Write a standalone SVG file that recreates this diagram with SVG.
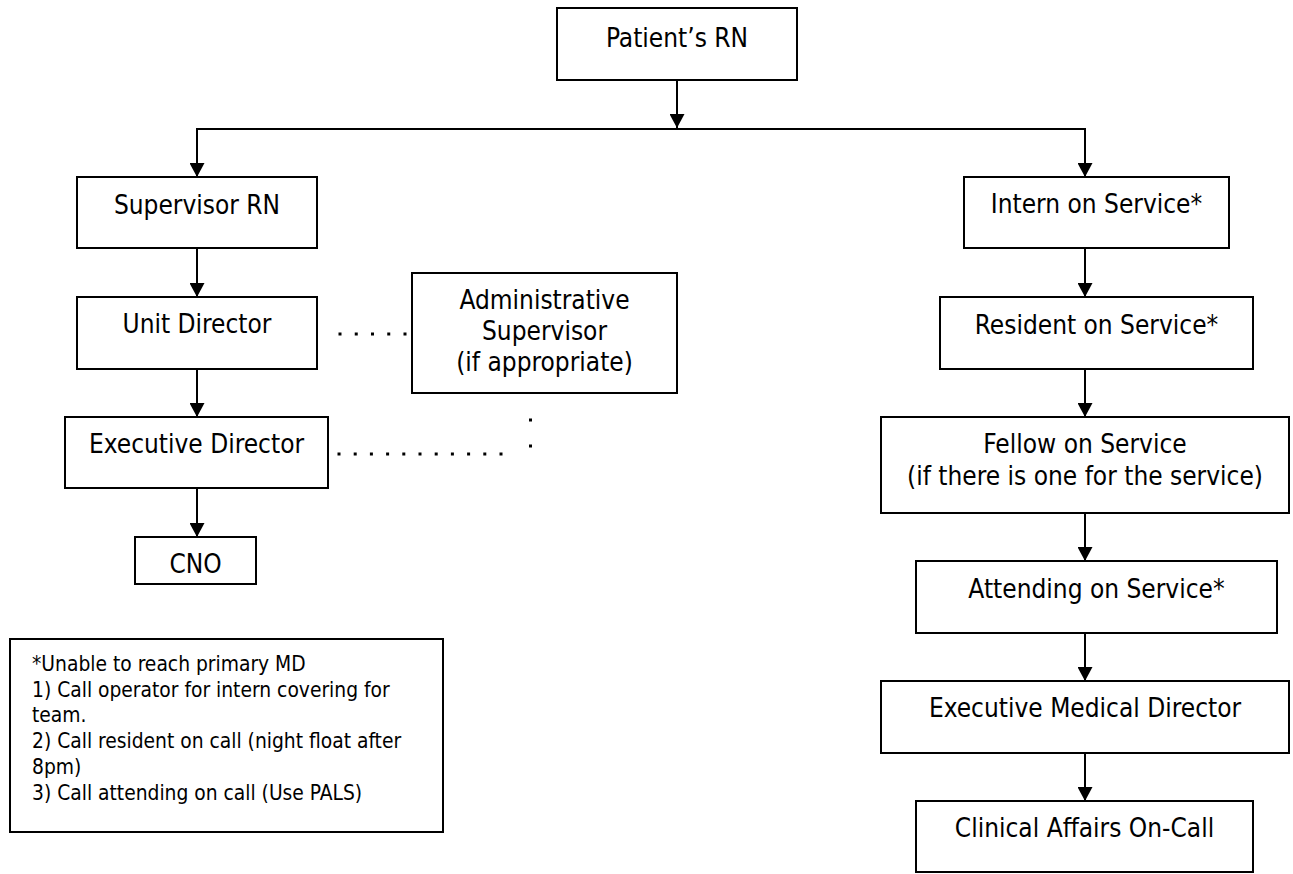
<svg xmlns="http://www.w3.org/2000/svg" width="1293" height="874" viewBox="0 0 1293 874">
<style>
.box{fill:#fff;stroke:#000;stroke-width:2}
.lbl{font-family:"DejaVu Sans Condensed","DejaVu Sans",sans-serif;font-stretch:condensed;font-size:26px;fill:#000;text-anchor:middle}
.note{font-family:"DejaVu Sans Condensed","DejaVu Sans",sans-serif;font-stretch:condensed;font-size:20.8px;fill:#000}
.ln{fill:none;stroke:#000;stroke-width:2}
.arr{fill:none;stroke:#000;stroke-width:2;marker-end:url(#ah)}
.dot{fill:none;stroke:#000;stroke-width:3;stroke-linecap:square}
</style>
<defs>
<marker id="ah" markerUnits="userSpaceOnUse" viewBox="0 0 14 15" markerWidth="14" markerHeight="15" refX="14" refY="7.5" orient="auto">
<path d="M0,0 L14,7.5 L0,15 z" fill="#000"/>
</marker>
</defs>
<rect width="1293" height="874" fill="#fff"/>
<g id="connectors">
<path class="arr" d="M677,80 V128"/>
<path class="ln" d="M197,129 H1085"/>
<path class="arr" d="M197,128 V177"/>
<path class="arr" d="M1085,128 V177"/>
<path class="arr" d="M197,248 V297"/>
<path class="arr" d="M197,369 V417"/>
<path class="arr" d="M197,488 V537"/>
<path class="arr" d="M1085,248 V297"/>
<path class="arr" d="M1085,369 V417"/>
<path class="arr" d="M1085,513 V561"/>
<path class="arr" d="M1085,633 V681"/>
<path class="arr" d="M1085,753 V801"/>
<path class="dot" d="M340,334 H405.5" stroke-dasharray="0 16.25"/>
<path class="dot" d="M339,454 H501.5" stroke-dasharray="0 16.2"/>
<path class="dot" d="M530.5,420 V446.5" stroke-dasharray="0 26"/>
</g>
<g id="patient-rn"><rect class="box" x="557" y="8" width="240" height="72"/><text class="lbl" x="677" y="47">Patient’s RN</text></g>
<g id="supervisor-rn"><rect class="box" x="77" y="177" width="240" height="71"/><text class="lbl" x="197" y="214">Supervisor RN</text></g>
<g id="unit-director"><rect class="box" x="77" y="297" width="240" height="72"/><text class="lbl" x="197" y="333">Unit Director</text></g>
<g id="executive-director"><rect class="box" x="65" y="417" width="263" height="71"/><text class="lbl" x="196.5" y="453">Executive Director</text></g>
<g id="cno"><rect class="box" x="135" y="537" width="121" height="47"/><text class="lbl" x="195.5" y="573">CNO</text></g>
<g id="administrative-supervisor"><rect class="box" x="412" y="273" width="265" height="120"/><text class="lbl" x="544.5" y="309">Administrative</text><text class="lbl" x="544.5" y="340">Supervisor</text><text class="lbl" x="544.5" y="371">(if appropriate)</text></g>
<g id="intern"><rect class="box" x="964" y="177" width="265" height="71"/><text class="lbl" x="1096.5" y="213">Intern on Service*</text></g>
<g id="resident"><rect class="box" x="940" y="297" width="313" height="72"/><text class="lbl" x="1096.5" y="334">Resident on Service*</text></g>
<g id="fellow"><rect class="box" x="881" y="417" width="408" height="96"/><text class="lbl" x="1085" y="453">Fellow on Service</text><text class="lbl" x="1085" y="485">(if there is one for the service)</text></g>
<g id="attending"><rect class="box" x="916" y="561" width="361" height="72"/><text class="lbl" x="1096.5" y="598">Attending on Service*</text></g>
<g id="executive-medical-director"><rect class="box" x="881" y="681" width="408" height="72"/><text class="lbl" x="1085" y="717">Executive Medical Director</text></g>
<g id="clinical-affairs"><rect class="box" x="916" y="801" width="337" height="71"/><text class="lbl" x="1084.5" y="837">Clinical Affairs On-Call</text></g>
<g id="note"><rect class="box" x="10" y="639" width="433" height="193"/>
<text class="note" x="32" y="671">*Unable to reach primary MD</text>
<text class="note" x="32" y="697">1) Call operator for intern covering for</text>
<text class="note" x="32" y="722">team.</text>
<text class="note" x="32" y="748">2) Call resident on call (night float after</text>
<text class="note" x="32" y="774">8pm)</text>
<text class="note" x="32" y="800">3) Call attending on call (Use PALS)</text>
</g>
</svg>
